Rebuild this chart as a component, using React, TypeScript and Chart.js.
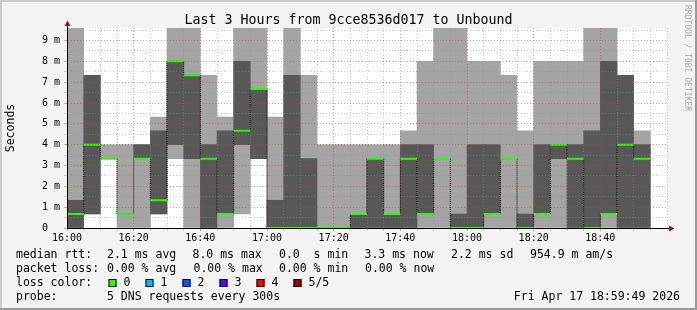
import React, { useEffect, useRef } from 'react';
import { Chart, registerables } from 'chart.js';

Chart.register(...registerables);

// ---- data (5 sorted DNS pings per 5-minute bin, in ms) ----
const binStarts = [
  '16:00', '16:05', '16:10', '16:15', '16:20', '16:25', '16:30', '16:35', '16:40', '16:45', '16:50', '16:55',
  '17:00', '17:05', '17:10', '17:15', '17:20', '17:25', '17:30', '17:35', '17:40', '17:45', '17:50', '17:55',
  '18:00', '18:05', '18:10', '18:15', '18:20', '18:25', '18:30', '18:35', '18:40', '18:45', '18:50',
];
const pingLow = [
  0, 0.67, 3.33, 0, 0, 0.67, 3.33, 0, 0, 0, 0.67, 3.33,
  0, 0, 0, 0, 0, 0, 0, 0, 0, 0, 0, 0,
  0, 0, 0, 0, 0, 0, 0, 0, 0, 0, 0,
];
const pingLowMid = [
  0, 0.67, 3.33, 0.67, 3.33, 0.67, 4, 3.33, 0, 0.67, 4, 3.33,
  0, 0, 0, 0, 0, 0, 0, 0, 0, 0.67, 3.33, 0,
  0, 0.67, 3.33, 0, 0.67, 3.33, 0, 0, 0.67, 0, 0,
];
const medianRtt = [
  0.67, 4, 3.33, 0.67, 3.33, 1.33, 8, 7.33, 3.33, 0.67, 4.67, 6.67,
  0, 0, 0, 0, 0, 0.67, 3.33, 0.67, 3.33, 0.67, 3.33, 0,
  0, 0.67, 3.33, 0, 0.67, 4, 3.33, 0, 0.67, 4, 3.33,
];
const pingHighMid = [
  1.33, 7.33, 3.33, 0.67, 4, 4.67, 8, 7.33, 4, 4.67, 8, 6.67,
  1.33, 7.33, 3.33, 0, 0, 0.67, 3.33, 0.67, 4, 4, 3.33, 0.67,
  4, 4, 3.33, 0.67, 4, 4, 4, 4.67, 8, 7.33, 4,
];
const pingHigh = [
  10, 7.33, 4, 4, 4, 5.33, 10, 10, 7.33, 5.33, 10, 10,
  5.33, 10, 7.33, 4, 4, 4, 4, 4, 4.67, 8, 10, 10,
  8, 8, 7.33, 4.67, 8, 8, 8, 10, 10, 7.33, 4.67,
];
const timeTickLabels = ['16:00', '16:20', '16:40', '17:00', '17:20', '17:40', '18:00', '18:20', '18:40'];
const axisStart = '16:00';
const axisEnd = '19:00';
const binMinutes = 5;
const yMax = 9.6;

const TITLE = 'Last 3 Hours from 9cce8536d017 to Unbound';
const lossColors = [
  { label: '0', color: '#26ff00' },
  { label: '1', color: '#00b8ff' },
  { label: '2', color: '#0059ff' },
  { label: '3', color: '#5e00ff' },
  { label: '4', color: '#ff0000' },
  { label: '5/5', color: '#a10000' },
];

const W = 697;
const H = 310;
const FONT = "'DejaVu Sans Mono', 'Liberation Mono', monospace";
const MAJOR = 'rgba(200, 60, 60, 0.45)';
const MINOR = 'rgba(140, 140, 140, 0.42)';

const toMin = (t: string) => {
  const [h, m] = t.split(':').map(Number);
  const [h0, m0] = axisStart.split(':').map(Number);
  return (h - h0) * 60 + (m - m0);
};
const isMult = (v: number, s: number) => Math.abs(v / s - Math.round(v / s)) < 1e-6;

const deco = {
  id: 'deco',
  beforeDraw(chart: any) {
    const { ctx, chartArea: a } = chart;
    ctx.save();
    ctx.fillStyle = '#f3f3f3';
    ctx.fillRect(0, 0, W, H);
    ctx.fillStyle = '#ffffff';
    ctx.fillRect(a.left, a.top, a.right - a.left, a.bottom - a.top);
    ctx.restore();
  },
  afterDraw(chart: any) {
    const { ctx, chartArea: a } = chart;
    ctx.save();
    // frame shading
    ctx.fillStyle = '#cbcbcb';
    ctx.fillRect(0, 0, W, 2);
    ctx.fillRect(0, 0, 2, H);
    ctx.fillStyle = '#999999';
    ctx.fillRect(0, H - 2, W, 2);
    ctx.fillRect(W - 2, 0, 2, H);

    // title
    ctx.fillStyle = '#000';
    ctx.font = `13.3px ${FONT}`;
    ctx.textAlign = 'center';
    ctx.textBaseline = 'alphabetic';
    ctx.fillText(TITLE, W / 2, 24);

    // axis extensions + arrows
    const arrow = '#8b1a1a';
    ctx.strokeStyle = '#000';
    ctx.lineWidth = 1;
    ctx.beginPath();
    ctx.moveTo(a.left + 0.5, a.top);
    ctx.lineTo(a.left + 0.5, a.top - 3);
    ctx.moveTo(a.right, a.bottom + 0.5);
    ctx.lineTo(a.right + 3, a.bottom + 0.5);
    ctx.stroke();
    ctx.fillStyle = arrow;
    ctx.beginPath();
    ctx.moveTo(a.left + 0.5, a.top - 7.5);
    ctx.lineTo(a.left - 2.5, a.top - 2);
    ctx.lineTo(a.left + 3.5, a.top - 2);
    ctx.closePath();
    ctx.fill();
    ctx.beginPath();
    ctx.moveTo(a.right + 7.5, a.bottom + 0.5);
    ctx.lineTo(a.right + 2, a.bottom - 2.5);
    ctx.lineTo(a.right + 2, a.bottom + 3.5);
    ctx.closePath();
    ctx.fill();

    // legend block
    ctx.fillStyle = '#000';
    ctx.font = `11.5px ${FONT}`;
    ctx.textAlign = 'left';
    ctx.textBaseline = 'alphabetic';
    const rows: [string, number, number][] = [
      ['median rtt:', 16, 258], ['2.1 ms avg', 107, 258], ['8.0 ms max', 192.5, 258], ['0.0  s min', 279, 258],
      ['3.3 ms now', 364.5, 258], ['2.2 ms sd', 451, 258], ['954.9 m am/s', 530, 258],
      ['packet loss:', 16, 272], ['0.00 % avg', 107, 272], ['0.00 % max', 193.5, 272], ['0.00 % min', 279, 272],
      ['0.00 % now', 365, 272],
      ['loss color:', 16, 286],
      ['probe:', 16, 300], ['5 DNS requests every 300s', 107, 300],
    ];
    rows.forEach(([t, x, y]) => ctx.fillText(t, x, y));
    const boxX = [108.5, 145.5, 182.5, 219.5, 256.5, 293.5];
    lossColors.forEach((lc, i) => {
      const bx = boxX[i];
      ctx.fillStyle = lc.color;
      ctx.fillRect(bx, 279, 8, 8);
      ctx.strokeStyle = '#000';
      ctx.lineWidth = 1;
      ctx.strokeRect(bx + 0.5, 279.5, 7, 7);
      ctx.fillStyle = '#000';
      ctx.fillText(lc.label, bx + 15, 286);
    });
    ctx.textAlign = 'right';
    ctx.fillText('Fri Apr 17 18:59:49 2026', 680, 300);

    // watermark
    ctx.translate(687.5, 5);
    ctx.rotate(Math.PI / 2);
    ctx.font = `8px ${FONT}`;
    ctx.fillStyle = '#a8a8a8';
    ctx.textAlign = 'left';
    ctx.textBaseline = 'middle';
    ctx.fillText('RRDTOOL / TOBI OETIKER', 0, 0);
    ctx.restore();
  },
};

export default function App() {
  const ref = useRef<HTMLCanvasElement>(null);

  useEffect(() => {
    const canvas = ref.current;
    if (!canvas) return;
    const starts = binStarts.map(toMin);
    const centers = starts.map((s) => s + binMinutes / 2);
    const outer = centers.map((x, i) => ({ x, y: [pingLow[i], pingHigh[i]] }));
    const inner = centers.map((x, i) => ({ x, y: [pingLowMid[i], pingHighMid[i]] }));
    const medianSegs: any[] = [];
    starts.forEach((s, i) => {
      medianSegs.push({ x: s, y: medianRtt[i] }, { x: s + binMinutes, y: medianRtt[i] }, { x: s + binMinutes, y: null });
    });
    const last = starts.length - 1;
    const medianSteps = starts
      .map((s, i) => ({ x: s, y: medianRtt[i] }))
      .concat([{ x: starts[last] + binMinutes, y: medianRtt[last] }]);
    const tickMinutes = timeTickLabels.map(toMin);
    const xMax = toMin(axisEnd);

    const xGrid = (c: any) => {
      const v = c.tick ? c.tick.value : null;
      if (v == null) return 'transparent';
      return isMult(v, 20) && v < xMax ? MAJOR : MINOR;
    };
    const yGrid = (c: any) => {
      const v = c.tick ? c.tick.value : null;
      if (v == null) return 'transparent';
      return isMult(v, 1) ? MAJOR : MINOR;
    };

    const chart = new Chart(canvas, {
      type: 'bar',
      data: {
        datasets: [
          {
            type: 'line', label: 'median', data: medianSegs, borderColor: '#26ff00', borderWidth: 2,
            pointRadius: 0, spanGaps: false, order: 0,
          } as any,
          {
            type: 'line', label: 'median steps', data: medianSteps, stepped: true, borderColor: '#000000',
            borderWidth: 1, borderDash: [1, 1], pointRadius: 0, order: 1,
          } as any,
          {
            type: 'bar', label: 'inner smoke', data: inner, backgroundColor: '#585858', order: 2,
            grouped: false, barPercentage: 1, categoryPercentage: 1,
          } as any,
          {
            type: 'bar', label: 'outer smoke', data: outer, backgroundColor: '#a4a4a4', order: 3,
            grouped: false, barPercentage: 1, categoryPercentage: 1,
          } as any,
        ],
      },
      options: {
        responsive: false,
        animation: false,
        devicePixelRatio: 1,
        events: [],
        layout: { padding: { left: 0, top: 28, right: 30, bottom: 0 } },
        plugins: { legend: { display: false }, title: { display: false }, tooltip: { enabled: false } },
        scales: {
          x: {
            type: 'linear', min: 0, max: xMax, offset: false,
            grid: { offset: false, z: 1, color: xGrid, tickColor: xGrid, tickLength: 3, lineWidth: 1 },
            border: { display: true, color: '#000', width: 1, dash: [1, 2], z: 2 },
            ticks: {
              stepSize: binMinutes, autoSkip: false, maxRotation: 0, minRotation: 0, padding: 1,
              includeBounds: false, color: '#000', font: { family: FONT, size: 10 },
              callback: (v: any) => {
                const idx = tickMinutes.findIndex((m) => Math.abs(m - Number(v)) < 1e-6);
                return idx >= 0 ? timeTickLabels[idx] : '';
              },
            },
            afterFit: (s: any) => { s.height = H - 228; },
          },
          y: {
            type: 'linear', min: 0, max: yMax,
            grid: { z: 1, color: yGrid, tickColor: yGrid, tickLength: 3, lineWidth: 1 },
            border: { display: true, color: '#000', width: 1, dash: [1, 2], z: 2 },
            ticks: {
              stepSize: 0.5, autoSkip: false, padding: 4, includeBounds: false, color: '#000',
              font: { family: FONT, size: 10 },
              callback: (v: any) => {
                const n = Number(v);
                if (!isMult(n, 1)) return '';
                return n === 0 ? '0  ' : `${Math.round(n)} m`;
              },
            },
            title: {
              display: true, text: 'Seconds', color: '#000', font: { family: FONT, size: 11.5 },
              padding: { top: 4, bottom: 0 },
            },
            afterFit: (s: any) => { s.width = 67; },
          },
        },
      } as any,
      plugins: [deco],
    });
    return () => chart.destroy();
  }, []);

  return (
    <div style={{ position: 'fixed', left: 0, top: 0, width: W, height: H }}>
      <canvas ref={ref} width={W} height={H} style={{ display: 'block', width: W, height: H }} />
    </div>
  );
}
